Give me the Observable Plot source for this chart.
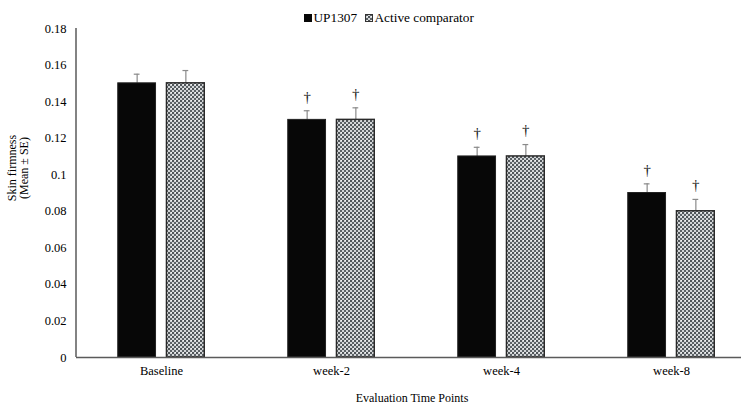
<!DOCTYPE html>
<html><head><meta charset="utf-8">
<script src="https://cdn.jsdelivr.net/npm/d3@7"></script>
<script src="https://cdn.jsdelivr.net/npm/@observablehq/plot@0.6"></script>
<style>html,body{margin:0;padding:0;overflow:hidden;background:#fff} svg text{font-family:"Liberation Serif","Times New Roman",serif !important}</style>
</head><body><div id="chart"></div>
<script>
const timePoints = ["Baseline", "week-2", "week-4", "week-8"];
const seriesNames = ["UP1307", "Active comparator"];
const up1307Mean = [0.15, 0.13, 0.11, 0.09];
const up1307SE = [0.005, 0.005, 0.005, 0.005];
const comparatorMean = [0.15, 0.13, 0.11, 0.08];
const comparatorSE = [0.007, 0.0066, 0.0065, 0.0065];
const significant = [false, true, true, true];
const yTicks = [0, 0.02, 0.04, 0.06, 0.08, 0.1, 0.12, 0.14, 0.16, 0.18];
const yLabelLines = ["Skin firmness", "(Mean ± SE)"];
const xTitle = "Evaluation Time Points";

const data = [];
timePoints.forEach((t, i) => {
  data.push({time: t, series: seriesNames[0], mean: up1307Mean[i], se: up1307SE[i], sig: significant[i]});
  data.push({time: t, series: seriesNames[1], mean: comparatorMean[i], se: comparatorSE[i], sig: significant[i]});
});

const W = 756, H = 407, ML = 76, MT = 28, MB = 50;
const font = "Liberation Serif, Times New Roman, serif";

const plot = Plot.plot({
  width: W, height: H,
  marginLeft: ML, marginRight: 0, marginTop: MT, marginBottom: MB,
  style: {fontFamily: font, fontSize: "12.5px", color: "#000", background: "#fff", maxWidth: "none", overflow: "visible"},
  fx: {domain: timePoints, paddingInner: 0, paddingOuter: 0, round: false, label: null, tickSize: 0, tickPadding: 9, axis: "bottom"},
  x: {domain: seriesNames, paddingInner: 0.2245, paddingOuter: 0.857, round: false, axis: null},
  y: {domain: [0, 0.18], ticks: yTicks, tickFormat: d => String(+d.toFixed(2)), tickSize: 0, tickPadding: 10, label: null},
  marks: [
    Plot.ruleX(data, {fx: "time", x: "series", y1: "mean", y2: d => d.mean + d.se, stroke: "#8a8a8a", strokeWidth: 1.2}),
    Plot.tickY(data, {fx: "time", x: "series", y: d => d.mean + d.se, stroke: "#8a8a8a", strokeWidth: 1.2, insetLeft: 16, insetRight: 16}),
    Plot.barY(data.filter(d => d.series === seriesNames[0]), {fx: "time", x: "series", y: "mean", fill: "#070707", stroke: "#222", strokeWidth: 1}),
    Plot.barY(data.filter(d => d.series === seriesNames[1]), {fx: "time", x: "series", y: "mean", fill: "url(#chk)", stroke: "#2a2a2a", strokeWidth: 1.5}),
    Plot.text(data.filter(d => d.sig), {fx: "time", x: "series", y: d => d.mean + d.se, text: () => "†", dy: -14, fontSize: 15, fill: "#111"}),
    Plot.ruleY([0], {stroke: "#5a5a5a", strokeWidth: 1.5})
  ]
});

document.getElementById("chart").appendChild(plot);
const svg = d3.select(plot);
const y = plot.scale("y");

const defs = svg.insert("defs", ":first-child");
const pat = defs.append("pattern").attr("id", "chk").attr("patternUnits", "userSpaceOnUse")
  .attr("width", 4).attr("height", 4);
pat.append("rect").attr("width", 4).attr("height", 4).attr("fill", "#d2d5d7");
pat.append("rect").attr("x", 0).attr("y", 0).attr("width", 2).attr("height", 2).attr("fill", "#4f5559");
pat.append("rect").attr("x", 2).attr("y", 2).attr("width", 2).attr("height", 2).attr("fill", "#5c6266");
pat.append("rect").attr("x", 3).attr("y", 0).attr("width", 1).attr("height", 1).attr("fill", "#f4f4f4");

// y axis line
svg.append("line")
  .attr("x1", ML).attr("x2", ML)
  .attr("y1", y.apply(0.18)).attr("y2", y.apply(0))
  .attr("stroke", "#5a5a5a").attr("stroke-width", 1.5);

// y axis title
const yt = svg.append("text")
  .attr("transform", `translate(12,168) rotate(-90)`)
  .attr("text-anchor", "middle")
  .style("font-size", "12px").attr("fill", "#000");
yLabelLines.forEach((l, i) => yt.append("tspan").attr("x", 0).attr("dy", i === 0 ? "0.32em" : "1.05em").text(l));

// x axis title
svg.append("text")
  .attr("x", 412).attr("y", 402)
  .attr("text-anchor", "middle")
  .style("font-size", "12px").attr("fill", "#000")
  .text(xTitle);

// legend
const lg = svg.append("g").style("font-size", "13.3px").attr("text-anchor", "start");
lg.append("rect").attr("x", 304).attr("y", 14).attr("width", 8).attr("height", 8).attr("fill", "#070707");
lg.append("text").attr("x", 313.5).attr("y", 22).attr("text-anchor", "start").attr("fill", "#000").text(seriesNames[0]);
lg.append("rect").attr("x", 365.5).attr("y", 14.5).attr("width", 7).attr("height", 7).attr("fill", "url(#chk)").attr("stroke", "#333").attr("stroke-width", 1);
lg.append("text").attr("x", 374.5).attr("y", 22).attr("text-anchor", "start").attr("fill", "#000").text(seriesNames[1]);
</script>
</body></html>
